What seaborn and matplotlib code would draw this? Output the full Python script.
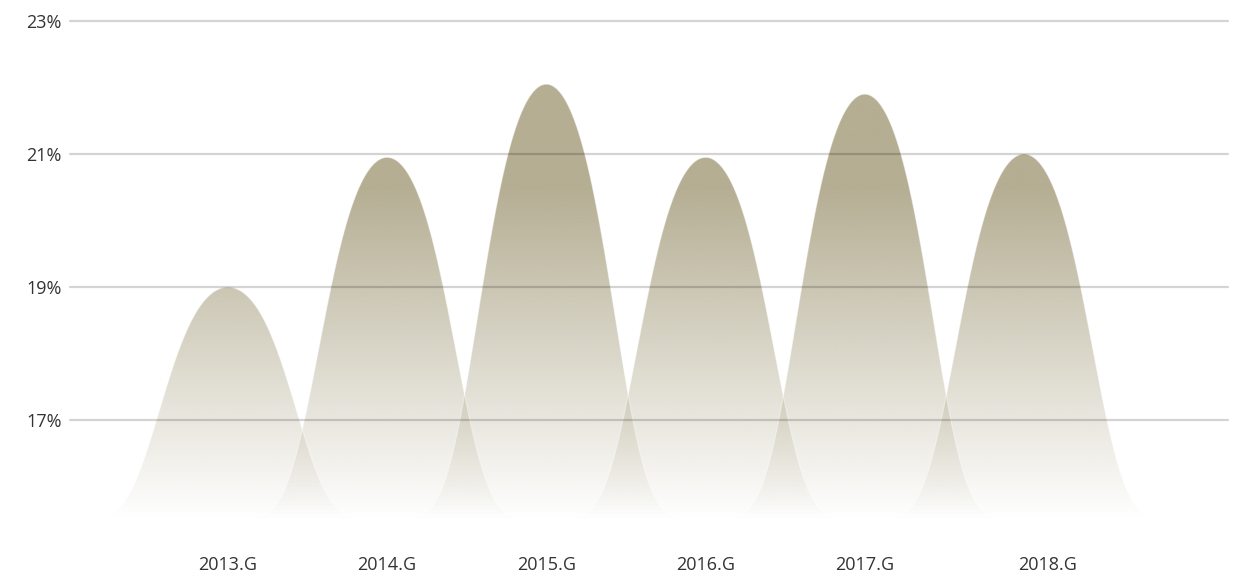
import numpy as np
import pandas as pd
import matplotlib
matplotlib.use("Agg")
import matplotlib.pyplot as plt
import seaborn as sns

# ---- data ----
years = ["2013.G", "2014.G", "2015.G", "2016.G", "2017.G", "2018.G"]
values = [19.0, 20.95, 22.05, 20.95, 21.9, 21.0]
y_ticks = [17, 19, 21, 23]
y_tick_labels = ["17%", "19%", "21%", "23%"]

BASE = 15.5
TOP = 23.0

sns.set_theme(style="white")
plt.rcParams["font.family"] = ["Open Sans", "DejaVu Sans"]

fig = plt.figure(figsize=(12.4, 5.73), dpi=100)
ax = fig.add_axes([70 / 1240, 1 - 520 / 573, (1228 - 70) / 1240, (520 - 21) / 573])

# build mountain-shaped curves from the values
u = np.linspace(-0.85, 0.85, 400)
shape = np.exp(-2.527 * u ** 2 - 8.35 * u ** 4)
rows = []
for i, (yr, v) in enumerate(zip(years, values)):
    for uu, sh in zip(u, shape):
        rows.append({"year": yr, "x": i + uu, "y": BASE + (v - BASE) * sh})
df = pd.DataFrame(rows)

# gradient (global, by y): colour with alpha fading to 0 at the base
ny = 400
yy = np.linspace(TOP, BASE, ny)
alpha = np.clip((yy - BASE) / 5.0, 0, 1)
grad = np.zeros((ny, 1, 4))
grad[..., 0] = 181 / 255
grad[..., 1] = 174 / 255
grad[..., 2] = 147 / 255
grad[..., 3] = alpha[:, None]

xlim = (-0.992, 6.281)
for yr in years:
    d = df[df["year"] == yr]
    poly = ax.fill_between(d["x"], BASE, d["y"], facecolor="none", edgecolor="none")
    im = ax.imshow(grad, extent=[xlim[0], xlim[1], BASE, TOP], aspect="auto",
                   origin="upper", zorder=1, interpolation="bilinear")
    im.set_clip_path(poly.get_paths()[0], transform=ax.transData)

sns.lineplot(data=df, x="x", y="y", units="year", estimator=None, ax=ax,
             color="white", linewidth=0.8, alpha=0.4, zorder=2, legend=False)

for t in y_ticks:
    ax.axhline(t, color="black", alpha=0.17, linewidth=1.6, zorder=3, clip_on=False)

ax.set_xlim(*xlim)
ax.set_ylim(BASE, TOP)
ax.set_yticks(y_ticks)
ax.set_yticklabels(y_tick_labels)
xpos = list(range(len(years)))
xpos[-1] = xpos[-1] + 0.15
ax.set_xticks(xpos)
ax.set_xticklabels(years)
ax.tick_params(axis="y", length=0, pad=6, labelsize=13, labelcolor="#333333")
ax.tick_params(axis="x", length=0, pad=26, labelsize=13, labelcolor="#333333")
ax.set_xlabel("")
ax.set_ylabel("")
for sp in ax.spines.values():
    sp.set_visible(False)
ax.grid(False)

fig.savefig("out.png", dpi=100)
